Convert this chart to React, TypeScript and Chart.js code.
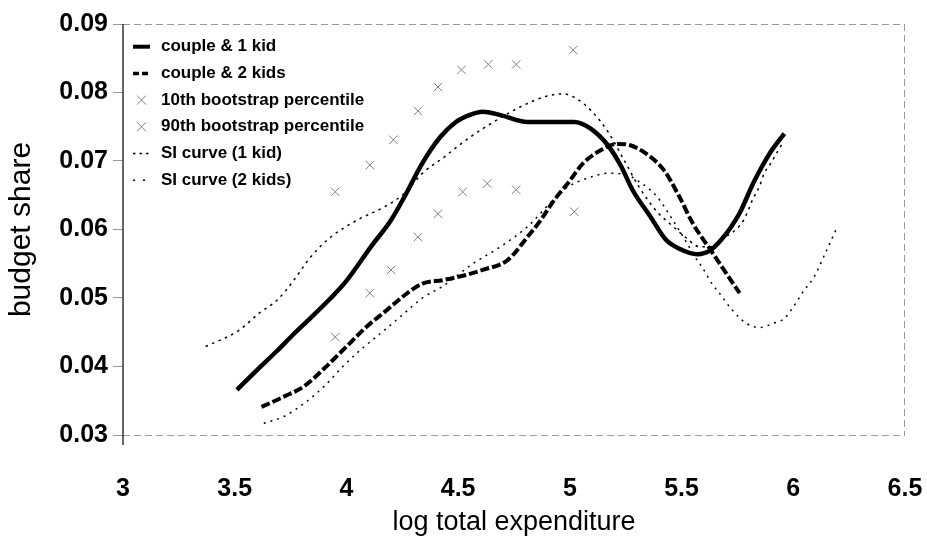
import React, { useEffect, useRef } from 'react';
import { Chart, registerables } from 'chart.js';

Chart.register(...registerables);

// ---- data ----
const kid1X = [3.51, 3.61, 3.69, 3.76, 3.84, 3.93, 4.0, 4.11, 4.2, 4.26, 4.34, 4.42, 4.49, 4.55, 4.61, 4.69, 4.81, 4.9, 5.02, 5.09, 5.17, 5.23, 5.28, 5.36, 5.43, 5.49, 5.57, 5.63, 5.68, 5.72, 5.76, 5.82, 5.86, 5.9, 5.96];
const kid1Y = [0.0366, 0.0398, 0.0423, 0.0446, 0.0471, 0.05, 0.0525, 0.0575, 0.0614, 0.0648, 0.0697, 0.0735, 0.0757, 0.0767, 0.0772, 0.0767, 0.0757, 0.0757, 0.0757, 0.0748, 0.0723, 0.0692, 0.0658, 0.0619, 0.0585, 0.0572, 0.0564, 0.057, 0.0586, 0.0603, 0.0624, 0.0667, 0.0692, 0.0714, 0.074];

const kid2X = [3.62, 3.72, 3.81, 3.9, 4.0, 4.09, 4.18, 4.26, 4.34, 4.43, 4.54, 4.61, 4.72, 4.81, 4.87, 4.93, 4.99, 5.06, 5.14, 5.21, 5.27, 5.34, 5.42, 5.49, 5.55, 5.63, 5.7, 5.76];
const kid2Y = [0.0341, 0.0356, 0.0371, 0.0397, 0.0429, 0.0458, 0.0482, 0.0504, 0.0521, 0.0526, 0.0534, 0.0541, 0.0555, 0.0589, 0.0614, 0.0643, 0.0667, 0.0697, 0.0716, 0.0725, 0.0723, 0.0711, 0.0687, 0.0648, 0.0609, 0.057, 0.0536, 0.0507];

const p10X = [3.95, 4.105, 4.2, 4.32, 4.41, 4.52, 4.63, 4.76, 5.02];
const p10Y = [0.0443, 0.0507, 0.0541, 0.0589, 0.0623, 0.0655, 0.0667, 0.0658, 0.0626];

const p90X = [3.95, 4.105, 4.21, 4.32, 4.41, 4.515, 4.635, 4.76, 5.015];
const p90Y = [0.0655, 0.0694, 0.0731, 0.0773, 0.0808, 0.0833, 0.0841, 0.0841, 0.0862];

const si1X = [3.37, 3.52, 3.61, 3.69, 3.76, 3.84, 3.93, 4.05, 4.17, 4.26, 4.34, 4.43, 4.55, 4.7, 4.81, 4.9, 4.97, 5.03, 5.1, 5.17, 5.24, 5.31, 5.39, 5.46, 5.52, 5.58, 5.63, 5.68, 5.75, 5.78, 5.82, 5.85, 5.87, 5.9, 5.93, 5.95];
const si1Y = [0.0429, 0.0453, 0.0478, 0.0497, 0.0524, 0.056, 0.0589, 0.0614, 0.0633, 0.0653, 0.0682, 0.0704, 0.0734, 0.0765, 0.0784, 0.0795, 0.0798, 0.0791, 0.0772, 0.0743, 0.0703, 0.0662, 0.0626, 0.0605, 0.0588, 0.0575, 0.0575, 0.0586, 0.0602, 0.0615, 0.0645, 0.0664, 0.0682, 0.0697, 0.0714, 0.0725];

const si2X = [3.63, 3.72, 3.81, 3.9, 3.99, 4.08, 4.17, 4.26, 4.34, 4.43, 4.57, 4.69, 4.81, 4.91, 4.99, 5.08, 5.17, 5.24, 5.31, 5.39, 5.46, 5.51, 5.56, 5.59, 5.64, 5.67, 5.72, 5.79, 5.85, 5.91, 5.96, 6.0, 6.05, 6.09, 6.14, 6.19];
const si2Y = [0.0317, 0.0327, 0.0346, 0.0371, 0.0402, 0.0429, 0.0453, 0.0478, 0.05, 0.0517, 0.0551, 0.0575, 0.0604, 0.0638, 0.0662, 0.0675, 0.0682, 0.0681, 0.067, 0.0648, 0.0614, 0.0588, 0.056, 0.0546, 0.0519, 0.0507, 0.0485, 0.0463, 0.0457, 0.0463, 0.047, 0.0487, 0.0512, 0.0529, 0.0563, 0.0599];

const seriesLabels = [
  'couple & 1 kid',
  'couple & 2 kids',
  '10th bootstrap percentile',
  '90th bootstrap percentile',
  'SI curve (1 kid)',
  'SI curve (2 kids)',
];

const xTickLabels = ['3', '3.5', '4', '4.5', '5', '5.5', '6', '6.5'];
const yTickLabels = ['0.03', '0.04', '0.05', '0.06', '0.07', '0.08', '0.09'];
const xTitle = 'log total expenditure';
const yTitle = 'budget share';

const FONT = '"Liberation Sans", Arial, Helvetica, sans-serif';

const pts = (xs: number[], ys: number[]) => xs.map((x, i) => ({ x, y: ys[i] }));

const framePlugin = {
  id: 'frame',
  beforeDatasetsDraw(chart: any) {
    const { ctx, chartArea } = chart;
    const { left, right, top, bottom } = chartArea;
    ctx.save();
    ctx.strokeStyle = '#9a9a9a';
    ctx.lineWidth = 1;
    ctx.setLineDash([7, 4]);
    ctx.beginPath();
    ctx.moveTo(left, top + 0.5);
    ctx.lineTo(right, top + 0.5);
    ctx.moveTo(right - 0.5, top);
    ctx.lineTo(right - 0.5, bottom);
    ctx.moveTo(left, bottom + 0.5);
    ctx.lineTo(right, bottom + 0.5);
    ctx.stroke();
    ctx.setLineDash([]);
    ctx.strokeStyle = '#333';
    ctx.lineWidth = 1.5;
    ctx.beginPath();
    ctx.moveTo(left, top);
    ctx.lineTo(left, bottom + 10);
    ctx.stroke();
    ctx.restore();
  },
};

const legendPlugin = {
  id: 'insideLegend',
  afterDraw(chart: any) {
    const { ctx } = chart;
    const x0 = 133;
    const x1 = 150;
    const tx = 161;
    const y0 = 46.7;
    const dy = 26.7;
    ctx.save();
    seriesLabels.forEach((label, i) => {
      const y = y0 + i * dy;
      ctx.strokeStyle = '#000';
      ctx.setLineDash([]);
      if (i === 0) {
        ctx.lineWidth = 4;
        ctx.beginPath();
        ctx.moveTo(x0, y);
        ctx.lineTo(x1, y);
        ctx.stroke();
      } else if (i === 1) {
        ctx.lineWidth = 3.5;
        ctx.setLineDash([6, 3]);
        ctx.beginPath();
        ctx.moveTo(x0, y);
        ctx.lineTo(x1, y);
        ctx.stroke();
      } else if (i === 2 || i === 3) {
        ctx.strokeStyle = '#808080';
        ctx.lineWidth = 1;
        const c = (x0 + x1) / 2;
        const r = 4.5;
        ctx.beginPath();
        ctx.moveTo(c - r, y - r);
        ctx.lineTo(c + r, y + r);
        ctx.moveTo(c + r, y - r);
        ctx.lineTo(c - r, y + r);
        ctx.stroke();
      } else if (i === 4) {
        ctx.lineWidth = 1.5;
        ctx.setLineDash([2.5, 4]);
        ctx.beginPath();
        ctx.moveTo(x0, y);
        ctx.lineTo(x1, y);
        ctx.stroke();
      } else {
        ctx.lineWidth = 1.5;
        ctx.setLineDash([2, 8]);
        ctx.beginPath();
        ctx.moveTo(x0, y);
        ctx.lineTo(x1, y);
        ctx.stroke();
      }
      ctx.setLineDash([]);
      ctx.fillStyle = '#000';
      ctx.font = `bold 17px ${FONT}`;
      ctx.textAlign = 'left';
      ctx.textBaseline = 'middle';
      ctx.fillText(label, tx, y);
    });
    ctx.restore();
  },
};

export default function App() {
  const canvasRef = useRef<HTMLCanvasElement | null>(null);

  useEffect(() => {
    if (!canvasRef.current) return;
    const lineBase = { showLine: true, pointRadius: 0, pointHoverRadius: 0, fill: false, cubicInterpolationMode: 'monotone' };
    const chart = new Chart(canvasRef.current, {
      type: 'scatter',
      data: {
        datasets: [
          { ...lineBase, label: seriesLabels[0], data: pts(kid1X, kid1Y), borderColor: '#000', borderWidth: 4.5 },
          { ...lineBase, label: seriesLabels[1], data: pts(kid2X, kid2Y), borderColor: '#000', borderWidth: 4, borderDash: [9, 3] },
          { label: seriesLabels[2], data: pts(p10X, p10Y), showLine: false, pointStyle: 'crossRot', pointRadius: 6, pointBorderColor: '#808080', pointBorderWidth: 1, borderColor: '#808080' },
          { label: seriesLabels[3], data: pts(p90X, p90Y), showLine: false, pointStyle: 'crossRot', pointRadius: 6, pointBorderColor: '#808080', pointBorderWidth: 1, borderColor: '#808080' },
          { ...lineBase, label: seriesLabels[4], data: pts(si1X, si1Y), borderColor: '#000', borderWidth: 1.5, borderDash: [2.5, 4.5] },
          { ...lineBase, label: seriesLabels[5], data: pts(si2X, si2Y), borderColor: '#000', borderWidth: 1.5, borderDash: [2, 5] },
        ],
      } as any,
      options: {
        animation: false,
        responsive: false,
        maintainAspectRatio: false,
        layout: { padding: { left: 0, right: 22, top: 24, bottom: 0 } },
        plugins: { legend: { display: false }, tooltip: { enabled: false } },
        scales: {
          x: {
            type: 'linear',
            min: 3,
            max: 6.5,
            ticks: {
              stepSize: 0.5,
              padding: 39,
              color: '#000',
              font: { family: FONT, size: 25, weight: 'bold' },
              callback: (v: any) => {
                const i = Math.round((Number(v) - 3) / 0.5);
                return xTickLabels[i] ?? '';
              },
              maxRotation: 0,
            },
            grid: { drawOnChartArea: false, drawTicks: false },
            border: { display: false },
            title: { display: true, text: xTitle, color: '#000', font: { family: FONT, size: 27 }, padding: { top: 0, bottom: 9 } },
            afterFit: (s: any) => { s.height = 113; s.paddingLeft = 0; s.paddingRight = 0; },
          },
          y: {
            type: 'linear',
            min: 0.03,
            max: 0.09,
            ticks: {
              stepSize: 0.01,
              padding: 5,
              color: '#000',
              font: { family: FONT, size: 25, weight: 'bold' },
              callback: (v: any) => {
                const i = Math.round((Number(v) - 0.03) / 0.01);
                return yTickLabels[i] ?? '';
              },
            },
            grid: { drawOnChartArea: false, drawTicks: true, tickLength: 10, color: '#999' },
            border: { display: false },
            title: { display: true, text: yTitle, color: '#000', font: { family: FONT, size: 30 }, padding: { top: 4, bottom: 0 } },
            afterFit: (s: any) => { s.width = 123; s.paddingTop = 0; s.paddingBottom = 0; },
          },
        },
      } as any,
      plugins: [framePlugin, legendPlugin],
    });
    return () => chart.destroy();
  }, []);

  return (
    <div style={{ position: 'fixed', left: 0, top: 0, width: 927, height: 548, background: '#fff' }}>
      <canvas ref={canvasRef} width={927} height={548} style={{ display: 'block' }} />
    </div>
  );
}
